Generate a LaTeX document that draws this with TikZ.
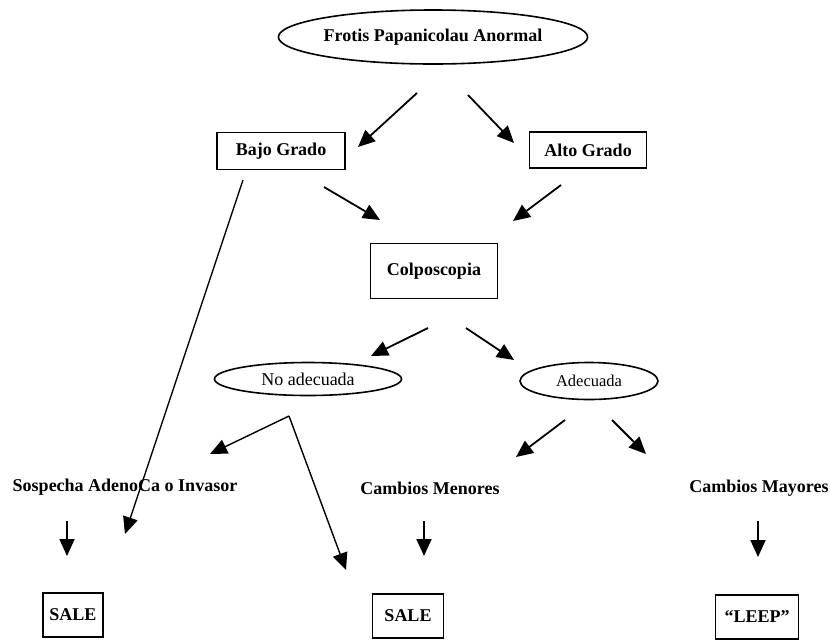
\documentclass[tikz,border=0pt]{standalone}
\usepackage{fontspec}
\setmainfont{Liberation Serif}
\usetikzlibrary{arrows.meta,shapes.geometric}

\begin{document}
\begin{tikzpicture}[x=1pt, y=-1pt, line width=1.8pt,
    every node/.style={font=\fontsize{18}{20}\selectfont\bfseries},
    box/.style={draw, line width=1.6pt, inner sep=0pt},
    oval/.style={draw, ellipse, line width=1.6pt, inner sep=0pt},
    thin text/.style={font=\fontsize{18}{20}\selectfont},
    arr/.style={-{Triangle[length=17pt, width=15pt]}}]

  \useasboundingbox (0, 0) rectangle (830, 641);

  % Levels
  \node[oval, minimum width=297pt, minimum height=54pt] (frotis) at (433, 37) { Frotis Papanicolau Anormal };
  \node[box, minimum width=128pt, minimum height=37pt] (bajo) at (281, 151) { Bajo Grado };
  \node[box, minimum width=117pt, minimum height=36pt] (alto) at (588, 150) { Alto Grado };
  \node[box, minimum width=127pt, minimum height=55pt] (colpo) at (434, 271) { Colposcopia };
  \node[oval, thin text, minimum width=187pt, minimum height=33pt] (noadec) at (308, 379) { No adecuada };
  \node[oval, thin text, font=\fontsize{16.5}{18}\selectfont, minimum width=138pt, minimum height=37pt] (adec) at (589, 381) { Adecuada };

  % Outcomes
  \node (sospecha) at (125, 487) { Sospecha AdenoCa o Invasor };
  \node (menores) at (430, 488) { Cambios Menores };
  \node (mayores) at (759, 488) { Cambios Mayores };

  \node[box, minimum width=60pt, minimum height=44pt] (sale1) at (73, 615) { SALE };
  \node[box, minimum width=71pt, minimum height=44pt] (sale2) at (408, 616) { SALE };
  \node[box, minimum width=83pt, minimum height=44pt] (leep) at (757, 617) { ``LEEP'' };

  % Arrow ends
  \coordinate (f1) at (417, 93);   \coordinate (f1e) at (358, 147);
  \coordinate (f2) at (468, 95);   \coordinate (f2e) at (514, 143);
  \coordinate (b1) at (324, 187);  \coordinate (b1e) at (380, 220);
  \coordinate (a1) at (561, 185);  \coordinate (a1e) at (513, 221);
  \coordinate (b2) at (243, 180);  \coordinate (b2e) at (125, 534);
  \coordinate (c1) at (428, 328);  \coordinate (c1e) at (371, 356);
  \coordinate (c2) at (466, 328);  \coordinate (c2e) at (514, 360);
  \coordinate (n0) at (289, 416);
  \coordinate (n1e) at (210, 454); \coordinate (n2e) at (346, 570);
  \coordinate (d1) at (565, 420);  \coordinate (d1e) at (516, 457);
  \coordinate (d2) at (612, 420);  \coordinate (d2e) at (646, 454);
  \coordinate (s1) at (67, 521);   \coordinate (s1e) at (67, 556);
  \coordinate (m1) at (424, 521);  \coordinate (m1e) at (424, 556);
  \coordinate (y1) at (758, 521);  \coordinate (y1e) at (758, 557);

  \draw[arr] (f1) -- (f1e);
  \draw[arr] (f2) -- (f2e);
  \draw[arr] (b1) -- (b1e);
  \draw[arr] (a1) -- (a1e);
  \draw[arr, line width=1.3pt] (b2) -- (b2e);
  \draw[arr] (c1) -- (c1e);
  \draw[arr] (c2) -- (c2e);
  \draw[arr, line width=1.4pt] (n0) -- (n1e);
  \draw[arr, line width=1.4pt] (n0) -- (n2e);
  \draw[arr] (d1) -- (d1e);
  \draw[arr] (d2) -- (d2e);
  \draw[arr] (s1) -- (s1e);
  \draw[arr] (m1) -- (m1e);
  \draw[arr] (y1) -- (y1e);

\end{tikzpicture}
\end{document}
